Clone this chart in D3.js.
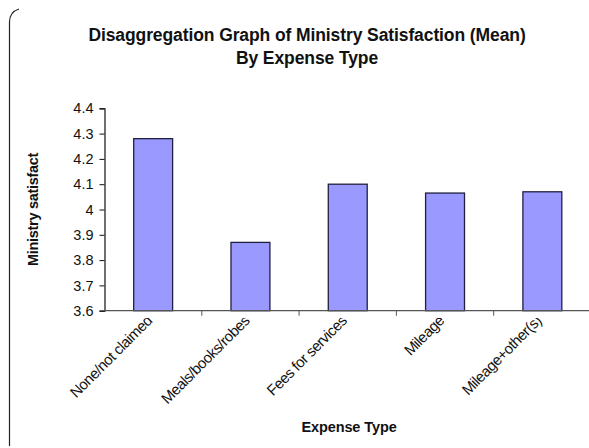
<!DOCTYPE html>
<html>
<head>
<meta charset="utf-8">
<script src="https://cdn.jsdelivr.net/npm/d3@7"></script>
<style>
  html, body { margin: 0; padding: 0; background: #fff; }
  svg { display: block; font-family: "Liberation Sans", Arial, sans-serif; }
</style>
</head>
<body>
<svg id="chart" width="589" height="448"></svg>
<script>
// Mean ministry satisfaction by expense type
const categories = ["None/not claimed", "Meals/books/robes", "Fees for services", "Mileage", "Mileage+other(s)"];
const meanSatisfaction = [4.28, 3.87, 4.10, 4.065, 4.07];
const yTicks = [3.6, 3.7, 3.8, 3.9, 4.0, 4.1, 4.2, 4.3, 4.4];
const titleLines = ["Disaggregation Graph of Ministry Satisfaction (Mean)", "By Expense Type"];
const xTitle = "Expense Type";
const yTitle = "Ministry satisfact";

const svg = d3.select("#chart");

const plot = { left: 104.5, right: 591, top: 108.3, bottom: 310.7 };

const x = d3.scaleBand()
  .domain(categories)
  .range([plot.left, plot.right])
  .paddingInner(0.6)
  .paddingOuter(0.3);

const y = d3.scaleLinear()
  .domain([3.6, 4.4])
  .range([plot.bottom, plot.top]);

// chart area frame (only the left side is visible within the page)
svg.append("path")
  .attr("d", "M9.5,446 L9.5,22 Q9.5,12 19,9")
  .attr("fill", "none")
  .attr("stroke", "#222")
  .attr("stroke-width", 1.2);

// title
svg.append("g")
  .selectAll("text")
  .data(titleLines)
  .join("text")
  .attr("x", 307)
  .attr("y", (d, i) => 41 + i * 22.5)
  .attr("text-anchor", "middle")
  .attr("font-size", 17.5)
  .attr("font-weight", "bold")
  .attr("letter-spacing", -0.1)
  .attr("fill", "#111")
  .text(d => d);

// bars
svg.append("g")
  .selectAll("rect")
  .data(categories)
  .join("rect")
  .attr("x", d => x(d))
  .attr("width", x.bandwidth())
  .attr("y", (d, i) => y(meanSatisfaction[i]))
  .attr("height", (d, i) => y(3.6) - y(meanSatisfaction[i]))
  .attr("fill", "#9999ff")
  .attr("stroke", "#202040")
  .attr("stroke-width", 1.3);

// y axis
const yAxis = d3.axisLeft(y)
  .tickValues(yTicks)
  .tickFormat(d => d3.format("")(+d.toFixed(1)))
  .tickSize(5)
  .tickPadding(6);

const yg = svg.append("g")
  .attr("transform", `translate(${plot.left},0)`)
  .call(yAxis);
yg.select(".domain").attr("stroke", "#111").attr("stroke-width", 1.2);
yg.selectAll(".tick line").attr("stroke", "#111");
yg.selectAll(".tick text")
  .attr("font-size", 14.5)
  .attr("font-family", "'Liberation Sans', Arial, sans-serif")
  .attr("fill", "#111");

// x axis: ticks fall on category boundaries
const xg = svg.append("g").attr("transform", `translate(0,${plot.bottom})`);
xg.append("line")
  .attr("x1", plot.left).attr("x2", plot.right)
  .attr("stroke", "#555").attr("stroke-width", 1.2);
xg.selectAll("line.tick")
  .data(categories.slice(1))
  .join("line")
  .attr("class", "tick")
  .attr("x1", d => x(d) - x.step() * 0.3)
  .attr("x2", d => x(d) - x.step() * 0.3)
  .attr("y1", 0).attr("y2", 5)
  .attr("stroke", "#555");

// rotated category labels, clipped just below the axis
svg.append("defs").append("clipPath").attr("id", "labelClip")
  .append("rect").attr("x", 0).attr("y", 318).attr("width", 589).attr("height", 130);

svg.append("g")
  .attr("clip-path", "url(#labelClip)")
  .selectAll("text")
  .data(categories)
  .join("text")
  .attr("transform", d => `translate(${x(d) + x.bandwidth() / 2},${plot.bottom + 11}) rotate(-45)`)
  .attr("text-anchor", "end")
  .attr("font-size", 15)
  .attr("letter-spacing", -0.5)
  .attr("fill", "#111")
  .text(d => d);

// axis titles
svg.append("text")
  .attr("x", 349)
  .attr("y", 432)
  .attr("text-anchor", "middle")
  .attr("font-size", 14.5)
  .attr("font-weight", "bold")
  .attr("letter-spacing", -0.1)
  .attr("fill", "#111")
  .text(xTitle);

svg.append("text")
  .attr("transform", `translate(38,${(plot.top + plot.bottom) / 2}) rotate(-90)`)
  .attr("text-anchor", "middle")
  .attr("font-size", 14.5)
  .attr("font-weight", "bold")
  .attr("letter-spacing", -0.3)
  .attr("fill", "#111")
  .text(yTitle);
</script>
</body>
</html>
